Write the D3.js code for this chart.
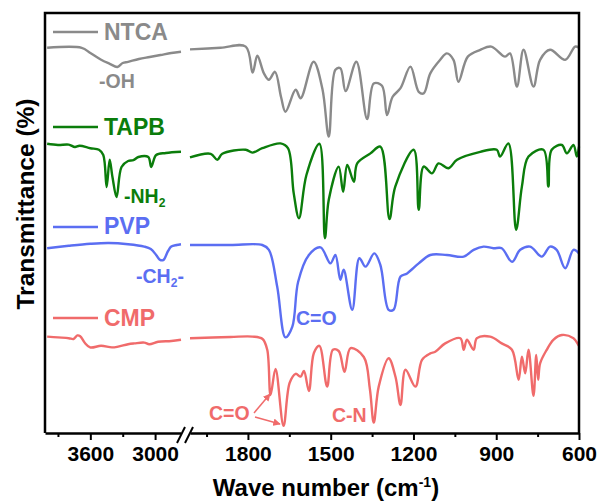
<!DOCTYPE html>
<html><head><meta charset="utf-8">
<script src="https://cdn.jsdelivr.net/npm/d3@7"></script>
<style>
body{margin:0;background:#fff;}
svg{display:block;font-family:Arial,"Liberation Sans",sans-serif;font-weight:bold;}
</style></head>
<body><svg id="c" width="602" height="502"></svg>
<script>
// ---- data: [wavenumber (cm-1), transmittance (offset, a.u.)] ----
const seriesNames = ["NTCA","TAPB","PVP","CMP"];
const seriesColors = ["#8a8a8a","#0b7d0b","#5b6ef2","#f06b6b"];

const ntcaLeft = [[4000,96.3],[3680,96.3],[3600,95],[3500,93.3],[3420,92.3],[3350,91.5],[3300,92.5],[3250,92.8],[3150,93.5],[3050,94],[2950,94.5],[2850,95],[2760,95.3]];
const ntcaRight = [[2010,95.9],[1899,96.3],[1808,96.6],[1783,90.1],[1766,94.3],[1742,89.9],[1724,88.3],[1702,90.3],[1680,84],[1664,80.3],[1627,85.8],[1609,83.7],[1562,92.8],[1530,86],[1507,74.1],[1483,90.8],[1465,91.2],[1446,85.5],[1407,92.8],[1368,78.5],[1344,87.4],[1314,86.8],[1296,79.5],[1276,84],[1247,86.2],[1211,91.6],[1181,85.3],[1163,84.9],[1139,89.9],[1103,93.3],[1079,94.9],[1055,93.3],[1037,87.8],[1003,94.1],[958,95.8],[918,96.6],[868,94.1],[850,94.9],[825,86.6],[801,95.8],[765,86.6],[741,93.3],[705,95.8],[650,93.3],[614,96.6],[600,96.3]];

const tapbLeft = [[4000,72.3],[3900,72],[3800,72.1],[3743,71.5],[3700,71.8],[3600,71.2],[3520,70.8],[3480,69.5],[3449,61.5],[3421,68.3],[3395,64],[3357,59],[3311,66.5],[3250,68],[3201,68.2],[3155,69],[3063,69],[3036,66.5],[2990,69.5],[2900,70],[2760,70.3]];
const tapbRight = [[2010,68.9],[1935,69.8],[1911,68.3],[1893,69.8],[1808,70.8],[1784,70.1],[1748,71.2],[1682,72.4],[1655,71.2],[1634,59.9],[1615,53.7],[1588,64.5],[1541,72.3],[1521,48.7],[1507,58.3],[1471,66.6],[1455,60.3],[1440,67],[1416,62.8],[1404,67.4],[1356,69.9],[1320,71.6],[1287,53.5],[1266,61.6],[1199,70.8],[1181,55.8],[1163,66.6],[1133,64.9],[1109,67.4],[1073,66.2],[1042,68.3],[958,70.3],[898,70.8],[886,69.1],[856,72.4],[828,50.8],[807,61.6],[783,69.1],[729,70.8],[711,61.6],[699,70.8],[662,72],[644,69.9],[620,72],[608,69.1],[600,71.6]];

const pvpLeft = [[4000,46.2],[3800,46.8],[3600,47.3],[3430,47.5],[3250,47.2],[3100,46.6],[3040,46],[2990,44.5],[2960,43.4],[2925,43.2],[2880,45.5],[2850,46.6],[2800,47],[2760,47.2]];
const pvpRight = [[2010,47],[1863,47],[1748,47],[1724,45.8],[1694,36.6],[1664,23.9],[1639,26.6],[1618,37.8],[1579,44.5],[1537,46.4],[1501,42.4],[1483,44.5],[1465,38.3],[1453,40.8],[1422,30.8],[1396,43.7],[1374,41.6],[1342,44.9],[1320,42],[1290,30.8],[1272,30.8],[1247,39.1],[1223,39.9],[1181,42.4],[1139,44.5],[1079,44.5],[1018,44.1],[982,45.8],[946,46.6],[910,46.2],[880,46.2],[843,42.8],[813,45.8],[777,46.6],[735,44.1],[705,46.6],[681,45.8],[650,41.2],[620,45.8],[600,44.9]];

const cmpLeft = [[4000,24.1],[3900,23.9],[3800,23.7],[3755,23.5],[3720,24.4],[3694,24.2],[3650,22.5],[3602,21.4],[3500,21.8],[3400,21.4],[3342,21.6],[3250,22.2],[3192,22.4],[3100,22.6],[3054,22.2],[2972,22.8],[2850,23],[2760,23.3]];
const cmpRight = [[2010,23.7],[1863,24],[1784,24.1],[1747,23.5],[1730,20.8],[1718,9.5],[1700,16],[1671,1.8],[1649,12.5],[1627,14.8],[1609,14.1],[1597,15.5],[1579,10.5],[1561,20],[1541,21.8],[1513,11.6],[1492,20.8],[1471,20.5],[1450,15.3],[1428,21.2],[1380,19],[1358,11],[1344,2.6],[1326,11.6],[1290,18.7],[1265,14],[1247,7],[1229,15.8],[1193,11.6],[1169,18.3],[1139,19.9],[1121,20.3],[1085,22.4],[1030,23.7],[1018,20.8],[1006,23.3],[982,20.8],[970,23.7],[922,24.1],[880,22.4],[843,20.8],[819,13.3],[807,19.1],[795,14.9],[783,20.8],[765,9.3],[755,19.5],[748,13.3],[741,17.4],[717,20.8],[693,23.3],[662,24.5],[620,23.7],[602,22],[600,21.8]];

const leftMajor = [3600,3000], leftMinor = [3900,3300];
const rightMajor = [1800,1500,1200,900,600], rightMinor = [1950,1650,1350,1050,750];

// ---- scales ----
const svg = d3.select("#c");
const L = 45, R = 579, T = 13, B = 433;
const xL = d3.scaleLinear().domain([4020,2760]).range([L,181]);
const xR = d3.scaleLinear().domain([2010,600]).range([190,R]);
const y = d3.scaleLinear().domain([0,105]).range([B,T]);

const data = [[ntcaLeft,ntcaRight],[tapbLeft,tapbRight],[pvpLeft,pvpRight],[cmpLeft,cmpRight]];
const curve = d3.curveCatmullRom.alpha(0.5);
const lineL = d3.line().x(d=>xL(d[0])).y(d=>y(d[1])).curve(curve);
const lineR = d3.line().x(d=>xR(d[0])).y(d=>y(d[1])).curve(curve);
data.forEach((s,i)=>{
  svg.append("path").attr("d",lineL(s[0])).attr("fill","none").attr("stroke",seriesColors[i]).attr("stroke-width",2.4).attr("stroke-linejoin","round");
  svg.append("path").attr("d",lineR(s[1])).attr("fill","none").attr("stroke",seriesColors[i]).attr("stroke-width",2.4).attr("stroke-linejoin","round");
});

// ---- frame ----
svg.append("path").attr("d",`M${L},${B}V${T}H${R}V${B}`).attr("fill","none").attr("stroke","#000").attr("stroke-width",2.5);

function axis(scale, major, minor){
  const gM = svg.append("g").attr("transform",`translate(0,${B})`)
    .call(d3.axisBottom(scale).tickValues(major).tickSize(7).tickSizeOuter(0).tickPadding(6).tickFormat(d3.format("d")));
  gM.select(".domain").attr("stroke-width",2.5);
  gM.selectAll(".tick line").attr("stroke-width",2);
  gM.selectAll("text").attr("font-size",21).attr("font-weight","bold").attr("font-family","Arial, 'Liberation Sans', sans-serif").attr("fill","#000");
  const gm = svg.append("g").attr("transform",`translate(0,${B})`)
    .call(d3.axisBottom(scale).tickValues(minor).tickSize(4).tickSizeOuter(0).tickFormat(""));
  gm.select(".domain").remove();
  gm.selectAll(".tick line").attr("stroke-width",2);
}
axis(xL, leftMajor, leftMinor);
axis(xR, rightMajor, rightMinor);

// axis break marks
svg.append("rect").attr("x",181).attr("y",B-3).attr("width",9).attr("height",6).attr("fill","#fff");
[[177,443,185,427],[185,443,193,427]].forEach(p=>{
  svg.append("line").attr("x1",p[0]).attr("y1",p[1]).attr("x2",p[2]).attr("y2",p[3]).attr("stroke","#000").attr("stroke-width",2);
});

// ---- legends ----
const legY = [32,127,227,318];
const legBase = [40,135,234,326];
seriesNames.forEach((n,i)=>{
  svg.append("line").attr("x1",53).attr("x2",98).attr("y1",legY[i]).attr("y2",legY[i]).attr("stroke",seriesColors[i]).attr("stroke-width",2.4);
  svg.append("text").attr("x",104).attr("y",legBase[i]).attr("font-size",23).attr("fill",seriesColors[i]).text(n);
});

// ---- annotations ----
function ann(x,yb,parts,color,size){
  const t = svg.append("text").attr("x",x).attr("y",yb).attr("font-size",size).attr("fill",color);
  parts.forEach(p=>{
    const ts = t.append("tspan").text(p[0]);
    if(p[1]) ts.attr("font-size",size*0.62).attr("dy",4);
    else if(p[2]) ts.attr("dy",-4);
  });
}
ann(99,88,[["-OH"]],seriesColors[0],19.5);
ann(124,203,[["-NH"],["2",1]],seriesColors[1],19.5);
ann(136,283,[["-CH"],["2",1],["-",0,1]],seriesColors[2],19.5);
ann(296,325,[["C=O"]],seriesColors[2],19.5);
ann(209,420,[["C=O"]],seriesColors[3],19.5);
ann(332,422,[["C-N"]],seriesColors[3],19.5);

// arrows
const defs = svg.append("defs");
defs.append("marker").attr("id","ah").attr("viewBox","0 0 10 10").attr("refX",9).attr("refY",5)
  .attr("markerWidth",5).attr("markerHeight",5).attr("orient","auto")
  .append("path").attr("d","M0,0L10,5L0,10z").attr("fill",seriesColors[3]);
[[254,413,270,394],[255,417,280,424]].forEach(p=>{
  svg.append("line").attr("x1",p[0]).attr("y1",p[1]).attr("x2",p[2]).attr("y2",p[3])
    .attr("stroke",seriesColors[3]).attr("stroke-width",1.5).attr("marker-end","url(#ah)");
});

// ---- axis titles ----
const xt = svg.append("text").attr("x",326).attr("y",496).attr("text-anchor","middle").attr("font-size",24).attr("fill","#000");
xt.append("tspan").text("Wave number (cm");
xt.append("tspan").text("-1").attr("font-size",14).attr("dy",-9);
xt.append("tspan").text(")").attr("dy",9);
svg.append("text").attr("transform","translate(34,204) rotate(-90)").attr("text-anchor","middle").attr("font-size",24.5).attr("fill","#000").text("Transmittance (%)");
</script></body></html>
